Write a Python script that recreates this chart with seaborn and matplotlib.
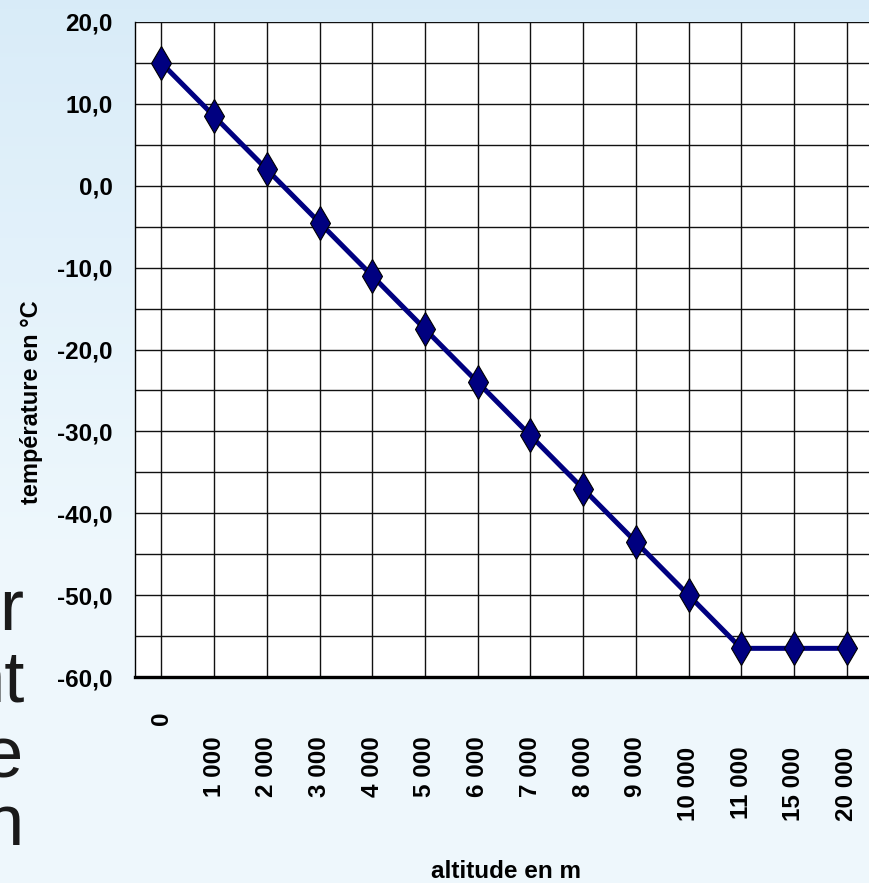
import numpy as np
import pandas as pd
import seaborn as sns
from matplotlib import pyplot as plt
from matplotlib.ticker import MultipleLocator, FuncFormatter
from matplotlib.transforms import ScaledTranslation

# altitude (m) vs temperature (°C) - standard atmosphere
altitudes = ['0', '1 000', '2 000', '3 000', '4 000', '5 000', '6 000',
             '7 000', '8 000', '9 000', '10 000', '11 000', '15 000', '20 000']
temperatures = [15.0, 8.5, 2.0, -4.5, -11.0, -17.5, -24.0,
                -30.5, -37.0, -43.5, -50.0, -56.5, -56.5, -56.5]

df = pd.DataFrame({'altitude': altitudes, 'temperature': temperatures})

sns.set_style('white')
plt.rcParams['font.family'] = ['Liberation Sans', 'DejaVu Sans']
plt.rcParams['text.color'] = 'black'
plt.rcParams['axes.labelcolor'] = 'black'
plt.rcParams['xtick.labelcolor'] = 'black'
plt.rcParams['ytick.labelcolor'] = 'black'

fig = plt.figure(figsize=(8.7, 8.83), dpi=100)

# slide background (light blue gradient)
bg = fig.add_axes([0, 0, 1, 1], zorder=-10)
grad = np.linspace(0, 1, 200).reshape(-1, 1)
top = np.array([0.85, 0.925, 0.975])
bot = np.array([0.935, 0.972, 0.99])
w = np.clip(grad * 1.6, 0, 1)
img = top + (bot - top) * w[..., None]
bg.imshow(img, aspect='auto', extent=[0, 1, 0, 1], origin='upper')
bg.axis('off')

# cut-off slide text on the left
for txt, x, yb in [('r', 23, 630), ('nt', 25, 702), ('e', 23, 777), ('n', 23, 845)]:
    fig.text(x / 870, 1 - yb / 883, txt, ha='right', va='baseline',
             fontsize=52, color='#1a1a1a')

ax = fig.add_axes([135 / 870, 206 / 883, 738 / 870, 655 / 883])
ax.set_facecolor('white')

sns.lineplot(data=df, x='altitude', y='temperature', sort=False, ax=ax,
             color='#000080', linewidth=3.6, marker='d', markersize=17,
             markerfacecolor='#000080', markeredgecolor='black',
             markeredgewidth=0.8, zorder=5)

ax.set_xlim(-0.5, len(altitudes) - 0.5)
ax.set_ylim(-60, 20)
ax.yaxis.set_major_locator(MultipleLocator(10))
ax.yaxis.set_minor_locator(MultipleLocator(5))
ax.yaxis.set_major_formatter(FuncFormatter(lambda v, p: f'{v:.1f}'.replace('.', ',')))

ax.grid(True, which='major', axis='both', color='#111111', linewidth=1.0)
ax.grid(True, which='minor', axis='y', color='#111111', linewidth=1.0)
ax.set_axisbelow(True)

for s in ['top', 'right']:
    ax.spines[s].set_visible(False)
ax.spines['left'].set_color('black')
ax.spines['left'].set_linewidth(1.0)
ax.spines['bottom'].set_color('black')
ax.spines['bottom'].set_linewidth(2.4)

ax.tick_params(axis='y', which='major', length=11, width=1, color='#666666', pad=5)
ax.tick_params(axis='y', which='minor', length=0)
ax.tick_params(axis='x', which='major', length=16, width=2.4, color='black',
               pad=27, direction='out')
for lab in ax.get_yticklabels():
    lab.set_fontweight('bold')
    lab.set_fontsize(17.5)

ax.set_xticks(range(len(altitudes)))
ax.set_xticklabels(altitudes, rotation=90, fontweight='bold', va='top', ha='center',
                   fontsize=17.5)
for lab in ax.get_xticklabels():
    t = lab.get_text()
    if t == '0':
        dy = 18
    elif len(t) == 6:
        dy = -7
    else:
        dy = 0
    lab.set_transform(lab.get_transform() + ScaledTranslation(0, dy / 72, fig.dpi_scale_trans))

ax.set_xlabel('altitude en m', fontsize=17.5, fontweight='bold')
ax.xaxis.set_label_coords(0.503, -0.279)
ax.set_ylabel('température en °C', fontsize=17, fontweight='bold')
ax.yaxis.set_label_coords(-0.124, 0.42)

plt.savefig('out.png', dpi=100)
